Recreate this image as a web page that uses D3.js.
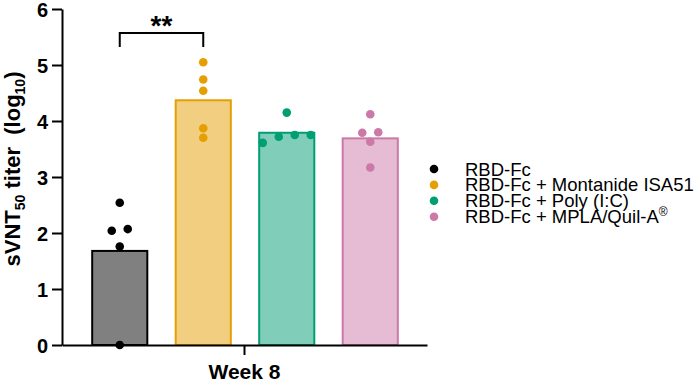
<!DOCTYPE html>
<html>
<head>
<meta charset="utf-8">
<script src="https://cdn.jsdelivr.net/npm/d3@7"></script>
<style>
	body { margin: 0; background: white; }
	svg text { font-family: 'Liberation Sans', Arial, sans-serif; }
</style>
</head>
<body>
<svg id="chart" width="700" height="382"></svg>
<script>
// data
var groups = ['RBD-Fc', 'RBD-Fc + Montanide ISA51', 'RBD-Fc + Poly (I:C)', 'RBD-Fc + MPLA/Quil-A'];
var colors = ['#000000', '#E69F00', '#009E73', '#CC79A7'];
var barFills = ['#808080', '#F2CF80', '#80CEB9', '#E5BCD3'];
var barMeans = [1.68, 4.37, 3.79, 3.69];
var pointsRBD = [2.54, 2.07, 2.04, 1.76, 0];
var pointsMontanide = [5.05, 4.74, 4.54, 3.87, 3.70];
var pointsPoly = [4.15, 3.75, 3.75, 3.72, 3.61];
var pointsMPLA = [4.12, 3.80, 3.79, 3.63, 3.17];
var yTicks = [0, 1, 2, 3, 4, 5, 6];
var timepoint = 'Week 8';

var allPoints = [pointsRBD, pointsMontanide, pointsPoly, pointsMPLA];

var svg = d3.select('#chart');

var y = d3.scaleLinear().domain([0, 6]).range([345, 9]);
var xOuter = d3.scaleBand().domain([timepoint]).range([62, 427]);
var x = d3.scaleBand()
	.domain(groups)
	.range([78, 412])
	.paddingInner(0.34)
	.paddingOuter(0.17)
;

// bars
svg.append('g').selectAll('rect').data(groups).join('rect')
	.attr('x', d => x(d))
	.attr('width', x.bandwidth())
	.attr('y', (d, i) => y(barMeans[i]))
	.attr('height', (d, i) => y(0) - y(barMeans[i]))
	.style('fill', (d, i) => barFills[i])
	.style('stroke', (d, i) => colors[i])
	.style('stroke-width', 2)
;

// points: rows of close values spread sideways
var r = 4.3, spread = 16;
function swarm(vals) {
	let sorted = vals.slice().sort((a, b) => b - a);
	let rows = [];
	for (v of sorted) {
		let last = rows[rows.length - 1];
		if (last && Math.abs(y(v) - y(last[0])) < 9) last.push(v);
		else rows.push([v]);
	}
	let out = [];
	for (row of rows) {
		row.sort((a, b) => a - b);
		row.forEach((v, j) => out.push({v: v, dx: (j - (row.length - 1) / 2) * spread}));
	}
	return out;
}
groups.forEach(function(g, i) {
	svg.append('g').selectAll('circle').data(swarm(allPoints[i])).join('circle')
		.attr('cx', d => x(g) + x.bandwidth() / 2 + d.dx)
		.attr('cy', d => y(d.v))
		.attr('r', r)
		.style('fill', colors[i])
	;
});

// axes
var yAxis = svg.append('g').attr('transform', 'translate(62,0)')
	.call(d3.axisLeft(y).tickValues(yTicks).tickFormat(d3.format('d')).tickSize(10).tickSizeOuter(0).tickPadding(4));
var xAxis = svg.append('g').attr('transform', 'translate(0,345)')
	.call(d3.axisBottom(xOuter).tickSize(10).tickSizeOuter(0).tickPadding(6));
for (ax of [yAxis, xAxis]) {
	ax.selectAll('path, line').style('stroke', 'black').style('stroke-width', 2);
	ax.selectAll('text').style('font-size', '21px').style('font-weight', 'bold').style('fill', 'black')
		.style('font-family', "'Liberation Sans', Arial, sans-serif");
}
xAxis.selectAll('text').attr('dy', '0.85em');
yAxis.selectAll('text').attr('dy', '0.36em').style('font-size', '20px');

// y label
var ylab = svg.append('text')
	.attr('transform', 'translate(20,169) rotate(-90)')
	.attr('text-anchor', 'middle')
	.style('white-space', 'pre')
	.style('font-size', '22px').style('font-weight', 'bold');
ylab.append('tspan').text('sVNT');
ylab.append('tspan').text('50').style('font-size', '14px').attr('dy', 5);
ylab.append('tspan').text(' titer  (log').attr('dy', -5);
ylab.append('tspan').text('10').style('font-size', '14px').attr('dy', 5);
ylab.append('tspan').text(')').attr('dy', -5);

// significance bracket
var x1 = x(groups[0]) + x.bandwidth() / 2, x2 = x(groups[1]) + x.bandwidth() / 2;
svg.append('path')
	.attr('d', d3.line()([[x1, 47], [x1, 33], [x2, 33], [x2, 47]]))
	.style('fill', 'none').style('stroke', 'black').style('stroke-width', 2);
svg.append('text')
	.attr('x', (x1 + x2) / 2).attr('y', 35)
	.attr('text-anchor', 'middle')
	.style('font-size', '28px').style('font-weight', 'bold')
	.text('**');

// legend
var legend = svg.append('g').attr('transform', 'translate(434,169)');
var items = legend.selectAll('g').data(groups).join('g')
	.attr('transform', (d, i) => 'translate(0,' + i * 15.9 + ')');
items.append('circle').attr('r', r).style('fill', (d, i) => colors[i]);
var lt = items.append('text')
	.attr('x', 31).attr('y', 6.5)
	.style('font-size', '18.5px')
	.text(d => d);
lt.filter((d, i) => i == 3).append('tspan')
	.text('®').style('font-size', '12px').attr('dy', -7);
</script>
</body>
</html>
